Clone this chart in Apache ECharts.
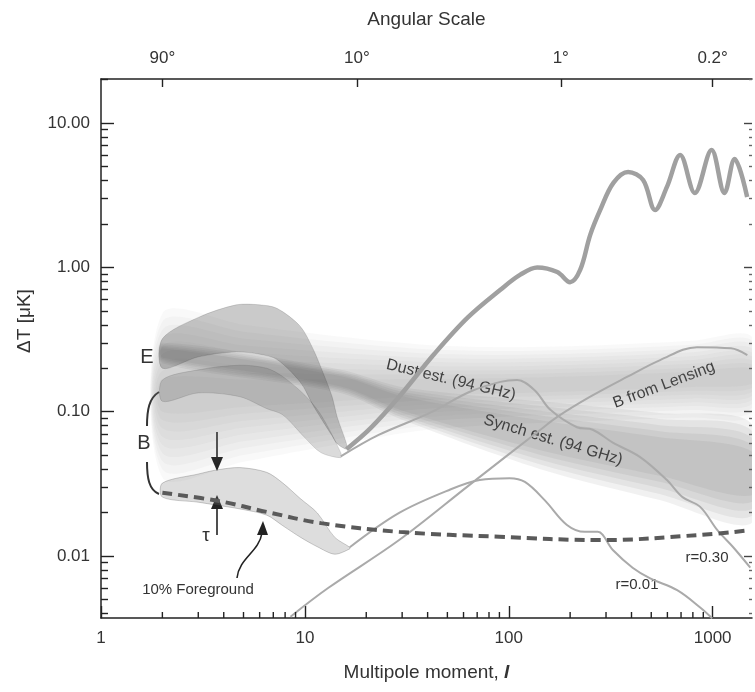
<!DOCTYPE html>
<html>
<head>
<meta charset="utf-8">
<script src="https://cdn.jsdelivr.net/npm/echarts@6/dist/echarts.min.js"></script>
<style>
  html, body { margin: 0; padding: 0; background: #fff; }
  #main { width: 755px; height: 692px; }
</style>
</head>
<body>
<div id="main"></div>
<script>
// 刻度
var xMajor = [1, 10, 100, 1000];
var xMinor = [2, 3, 4, 5, 6, 7, 8, 9, 20, 30, 40, 50, 60, 70, 80, 90, 200, 300, 400, 500, 600, 700, 800, 900];
var yMajor = [0.01, 0.1, 1, 10];
var yMinor = [0.004, 0.005, 0.006, 0.007, 0.008, 0.009, 0.02, 0.03, 0.04, 0.05, 0.06, 0.07, 0.08, 0.09,
  0.2, 0.3, 0.4, 0.5, 0.6, 0.7, 0.8, 0.9, 2, 3, 4, 5, 6, 7, 8, 9, 20];
var angL = [2, 18, 180, 1000];
var angLabels = ['90°', '10°', '1°', '0.2°'];

// EE 谱
var eeL = [16, 21, 29, 43, 63, 91, 114, 138, 173, 200, 224, 251, 281, 326, 385, 456, 522, 597, 693, 818, 988, 1143, 1282, 1477];
var eeV = [0.055, 0.077, 0.127, 0.25, 0.45, 0.70, 0.89, 1.0, 0.93, 0.79, 0.96, 1.68, 2.5, 3.85, 4.58, 4.03, 2.5, 3.61, 6.0, 3.28, 6.5, 3.28, 5.64, 3.07];

// 透镜 B 模
var lensL = [8.5, 13, 29, 64, 143, 173, 251, 380, 553, 838, 1230, 1480];
var lensV = [0.0038, 0.006, 0.0129, 0.031, 0.075, 0.092, 0.127, 0.174, 0.228, 0.28, 0.275, 0.247];

// r=0.30
var rHiL = [15, 23, 41, 64, 91, 110, 134, 160, 216, 258, 324, 441, 597, 712, 869, 1055, 1262, 1530];
var rHiV = [0.049, 0.069, 0.098, 0.137, 0.161, 0.166, 0.141, 0.103, 0.078, 0.075, 0.061, 0.0485, 0.0336, 0.0256, 0.0219, 0.0151, 0.0115, 0.0083];

// r=0.01
var rLoL = [16.6, 29, 52, 72, 101, 120, 150, 193, 236, 273, 324, 405, 494, 670, 869, 995];
var rLoV = [0.0115, 0.0199, 0.029, 0.0336, 0.0346, 0.0326, 0.0244, 0.0164, 0.0147, 0.0147, 0.011, 0.0083, 0.007, 0.0058, 0.0044, 0.0037];

// 10% 前景
var fgL = [2, 3.8, 6.5, 12, 29, 90, 280, 870, 1530];
var fgV = [0.0274, 0.024, 0.0202, 0.0169, 0.0147, 0.0136, 0.0129, 0.014, 0.0151];

// 带状区域
var eBandL = [2, 3, 4.6, 6, 7.3, 9.5, 11, 12.3, 13.6, 14.4, 16];
var eBandHi = [0.32, 0.45, 0.55, 0.55, 0.52, 0.39, 0.27, 0.185, 0.127, 0.092, 0.06];
var eBandLo = [0.20, 0.24, 0.26, 0.25, 0.23, 0.16, 0.11, 0.085, 0.068, 0.06, 0.055];

var bHiL = [2, 3, 4.8, 6.5, 7.8, 10, 12, 15];
var bHiTop = [0.166, 0.195, 0.21, 0.2, 0.175, 0.13, 0.095, 0.052];
var bHiBot = [0.118, 0.135, 0.127, 0.105, 0.095, 0.066, 0.052, 0.048];

var bLoL = [2, 3, 3.7, 4.8, 6.5, 7.8, 9.5, 11.5, 14, 16.6];
var bLoTop = [0.032, 0.037, 0.0395, 0.041, 0.038, 0.032, 0.025, 0.0199, 0.0135, 0.0115];
var bLoBot = [0.0256, 0.0236, 0.0225, 0.0212, 0.0192, 0.0162, 0.0135, 0.0116, 0.0103, 0.0112];

var synL = [2, 15, 30, 143, 550, 1560];
var synHi = [0.30, 0.195, 0.148, 0.118, 0.098, 0.082];
var synLo = [0.217, 0.135, 0.088, 0.040, 0.0244, 0.017];

var dustL = [2, 5, 15, 40, 100, 300, 800, 1560];
var dustHi = [0.48, 0.40, 0.33, 0.29, 0.28, 0.29, 0.31, 0.33];
var dustLo = [0.035, 0.045, 0.06, 0.075, 0.082, 0.087, 0.091, 0.094];

var FONT = '"Liberation Sans", Arial, sans-serif';
var X_MIN = 1, X_MAX = 1560, Y_MIN = 0.00372, Y_MAX = 20.2;

function pairs(xs, ys) {
  return xs.map(function (x, i) { return [x, ys[i]]; });
}

// 多层叠加模拟模糊边缘
function bandRender(L, lo, hi, style, layers, shrink) {
  return function (params, api) {
    if (params.dataIndex > 0) return null;
    var children = [];
    for (var k = 0; k < layers; k++) {
      var t = k * shrink;
      var pts = [];
      for (var i = 0; i < L.length; i++) {
        pts.push(api.coord([L[i], Math.pow(lo[i], 1 - t) * Math.pow(hi[i], t)]));
      }
      for (var j = L.length - 1; j >= 0; j--) {
        pts.push(api.coord([L[j], Math.pow(hi[j], 1 - t) * Math.pow(lo[j], t)]));
      }
      children.push({type: 'polygon', shape: {points: pts, smooth: 0.3}, style: style});
    }
    return {type: 'group', children: children};
  };
}

function band(name, L, lo, hi, style, layers, shrink) {
  return {
    name: name,
    type: 'custom',
    xAxisIndex: 0,
    yAxisIndex: 0,
    silent: true,
    clip: true,
    renderItem: bandRender(L, lo, hi, style, layers, shrink),
    data: [[L[0], lo[0]]]
  };
}

function curve(name, L, V, color, width, z) {
  return {
    name: name,
    type: 'line',
    xAxisIndex: 0,
    yAxisIndex: 0,
    smooth: 0.35,
    showSymbol: false,
    silent: true,
    z: z,
    lineStyle: {color: color, width: width},
    data: pairs(L, V)
  };
}

var tickLine = {color: '#222', width: 1.4};

var option = {
  animation: false,
  backgroundColor: '#fff',
  grid: {left: 101, right: 3, top: 79, bottom: 74, containLabel: false},
  xAxis: [
    {
      type: 'log', min: X_MIN, max: X_MAX, position: 'bottom',
      axisLine: {onZero: false, lineStyle: {color: '#222', width: 1.5}},
      axisTick: {inside: true, length: 12, customValues: xMajor, lineStyle: tickLine},
      axisLabel: {
        customValues: xMajor, margin: 12, fontSize: 17, color: '#333', fontFamily: FONT,
        formatter: function (v) { return String(Math.round(v)); }
      },
      splitLine: {show: false},
      name: 'Multipole moment, {i|l}',
      nameLocation: 'middle',
      nameGap: 45,
      nameTextStyle: {
        fontSize: 19, color: '#333', fontFamily: FONT,
        rich: {i: {fontSize: 19, fontStyle: 'italic', fontWeight: 'bold', color: '#333', fontFamily: FONT}}
      }
    },
    {
      type: 'log', min: X_MIN, max: X_MAX, position: 'top',
      axisLine: {onZero: false, lineStyle: {color: '#222', width: 1.5}},
      axisTick: {inside: true, length: 8, customValues: angL, lineStyle: tickLine},
      axisLabel: {
        customValues: angL, margin: 12, fontSize: 17, color: '#333', fontFamily: FONT,
        formatter: function (v) {
          var best = 0;
          for (var i = 1; i < angL.length; i++) {
            if (Math.abs(Math.log(angL[i] / v)) < Math.abs(Math.log(angL[best] / v))) best = i;
          }
          return angLabels[best];
        }
      },
      splitLine: {show: false},
      name: 'Angular Scale',
      nameLocation: 'middle',
      nameGap: 50,
      nameTextStyle: {fontSize: 19, color: '#333', fontFamily: FONT}
    }
  ],
  yAxis: [
    {
      type: 'log', min: Y_MIN, max: Y_MAX, position: 'left',
      axisLine: {onZero: false, lineStyle: {color: '#222', width: 1.5}},
      axisTick: {inside: true, length: 13, customValues: yMajor, lineStyle: tickLine},
      axisLabel: {
        customValues: yMajor, margin: 11, fontSize: 17, color: '#333', fontFamily: FONT,
        formatter: function (v) { return v.toFixed(2); }
      },
      splitLine: {show: false}
    },
    {
      type: 'log', min: Y_MIN, max: Y_MAX, position: 'left',
      axisLine: {show: false, onZero: false},
      axisTick: {inside: true, length: 7, customValues: yMinor, lineStyle: tickLine},
      axisLabel: {show: false},
      splitLine: {show: false}
    },
    {
      type: 'log', min: Y_MIN, max: Y_MAX, position: 'right',
      axisLine: {show: false, onZero: false},
      axisTick: {inside: true, length: 8, customValues: yMajor, lineStyle: {color: '#444', width: 1.4}},
      axisLabel: {show: false},
      splitLine: {show: false}
    },
    {
      type: 'log', min: Y_MIN, max: Y_MAX, position: 'right',
      axisLine: {show: false, onZero: false},
      axisTick: {inside: true, length: 3, customValues: yMinor, lineStyle: {color: '#666', width: 1.4}},
      axisLabel: {show: false},
      splitLine: {show: false}
    }
  ],
  series: [
    band('dust', dustL, dustLo, dustHi, {fill: 'rgba(110,110,110,0.045)'}, 9, 0.05),
    band('synch', synL, synLo, synHi, {fill: 'rgba(90,90,90,0.085)'}, 5, 0.07),
    band('E', eBandL, eBandLo, eBandHi, {fill: 'rgba(80,80,80,0.30)', stroke: 'rgba(0,0,0,0.12)', lineWidth: 1}, 1, 0),
    band('B r=0.30', bHiL, bHiBot, bHiTop, {fill: 'rgba(90,90,90,0.22)', stroke: 'rgba(0,0,0,0.10)', lineWidth: 1}, 1, 0),
    band('B r=0.01', bLoL, bLoBot, bLoTop, {fill: 'rgba(120,120,120,0.25)', stroke: 'rgba(0,0,0,0.18)', lineWidth: 1}, 1, 0),
    curve('EE', eeL, eeV, '#a0a0a0', 4.5, 5),
    curve('B from Lensing', lensL, lensV, '#aaaaaa', 2, 4),
    curve('r=0.30', rHiL, rHiV, '#aaaaaa', 2, 4),
    curve('r=0.01', rLoL, rLoV, '#aaaaaa', 2, 4),
    {
      name: '10% Foreground',
      type: 'line',
      xAxisIndex: 0,
      yAxisIndex: 0,
      smooth: 0.4,
      showSymbol: false,
      silent: true,
      z: 6,
      lineStyle: {color: '#5a5a5a', width: 4, type: [10, 6]},
      data: pairs(fgL, fgV)
    },
    {
      // 底部次刻度
      name: 'minor ticks',
      type: 'custom',
      xAxisIndex: 0,
      yAxisIndex: 0,
      silent: true,
      clip: false,
      z: 10,
      data: xMinor.map(function (v) { return [v, Y_MIN]; }),
      renderItem: function (params, api) {
        var p = api.coord([api.value(0), api.value(1)]);
        return {
          type: 'line',
          shape: {x1: p[0], y1: p[1], x2: p[0], y2: p[1] - 6},
          style: {stroke: '#222', lineWidth: 1.4}
        };
      }
    }
  ],
  graphic: [
    {type: 'text', x: 25, y: 321, rotation: Math.PI / 2,
      style: {text: 'ΔT [μK]', font: '19px ' + FONT, fill: '#333', align: 'center', verticalAlign: 'middle', textAlign: 'center', textVerticalAlign: 'middle'}},
    {type: 'text', x: 147, y: 357,
      style: {text: 'E', font: '20px ' + FONT, fill: '#333', align: 'center', verticalAlign: 'middle', textAlign: 'center', textVerticalAlign: 'middle'}},
    {type: 'text', x: 144, y: 443,
      style: {text: 'B', font: '20px ' + FONT, fill: '#333', align: 'center', verticalAlign: 'middle', textAlign: 'center', textVerticalAlign: 'middle'}},
    {type: 'bezierCurve', shape: {x1: 159, y1: 392, cpx1: 149, cpy1: 398, cpx2: 147, cpy2: 410, x2: 147, y2: 426},
      style: {stroke: '#333', lineWidth: 2, fill: null}},
    {type: 'bezierCurve', shape: {x1: 147, y1: 462, cpx1: 147, cpy1: 478, cpx2: 149, cpy2: 490, x2: 159, y2: 494},
      style: {stroke: '#333', lineWidth: 2, fill: null}},
    {type: 'line', shape: {x1: 217, y1: 432, x2: 217, y2: 460}, style: {stroke: '#222', lineWidth: 1.6}},
    {type: 'polygon', shape: {points: [[211, 457], [223, 457], [217, 471]]}, style: {fill: '#222'}},
    {type: 'line', shape: {x1: 217, y1: 535, x2: 217, y2: 507}, style: {stroke: '#222', lineWidth: 1.6}},
    {type: 'polygon', shape: {points: [[211, 509], [223, 509], [217, 495]]}, style: {fill: '#222'}},
    {type: 'text', x: 206, y: 536,
      style: {text: 'τ', font: '19px ' + FONT, fill: '#333', align: 'center', verticalAlign: 'middle', textAlign: 'center', textVerticalAlign: 'middle'}},
    {type: 'bezierCurve', shape: {x1: 237, y1: 578, cpx1: 239, cpy1: 558, cpx2: 259, cpy2: 552, x2: 262, y2: 533},
      style: {stroke: '#222', lineWidth: 1.6, fill: null}},
    {type: 'polygon', shape: {points: [[257, 535], [268, 535], [263, 521]]}, style: {fill: '#222'}},
    {type: 'text', x: 198, y: 590,
      style: {text: '10% Foreground', font: '15px ' + FONT, fill: '#333', align: 'center', verticalAlign: 'middle', textAlign: 'center', textVerticalAlign: 'middle'}},
    {type: 'text', x: 451, y: 380, rotation: -0.235,
      style: {text: 'Dust est. (94 GHz)', font: '16px ' + FONT, fill: '#333', align: 'center', verticalAlign: 'middle', textAlign: 'center', textVerticalAlign: 'middle'}},
    {type: 'text', x: 553, y: 440, rotation: -0.29,
      style: {text: 'Synch est. (94 GHz)', font: '16px ' + FONT, fill: '#333', align: 'center', verticalAlign: 'middle', textAlign: 'center', textVerticalAlign: 'middle'}},
    {type: 'text', x: 664, y: 385, rotation: 0.36,
      style: {text: 'B from Lensing', font: '16px ' + FONT, fill: '#333', align: 'center', verticalAlign: 'middle', textAlign: 'center', textVerticalAlign: 'middle'}},
    {type: 'text', x: 707, y: 558,
      style: {text: 'r=0.30', font: '15px ' + FONT, fill: '#333', align: 'center', verticalAlign: 'middle', textAlign: 'center', textVerticalAlign: 'middle'}},
    {type: 'text', x: 637, y: 585,
      style: {text: 'r=0.01', font: '15px ' + FONT, fill: '#333', align: 'center', verticalAlign: 'middle', textAlign: 'center', textVerticalAlign: 'middle'}}
  ]
};

var chart = echarts.init(document.getElementById('main'));
chart.setOption(option);
</script>
</body>
</html>
